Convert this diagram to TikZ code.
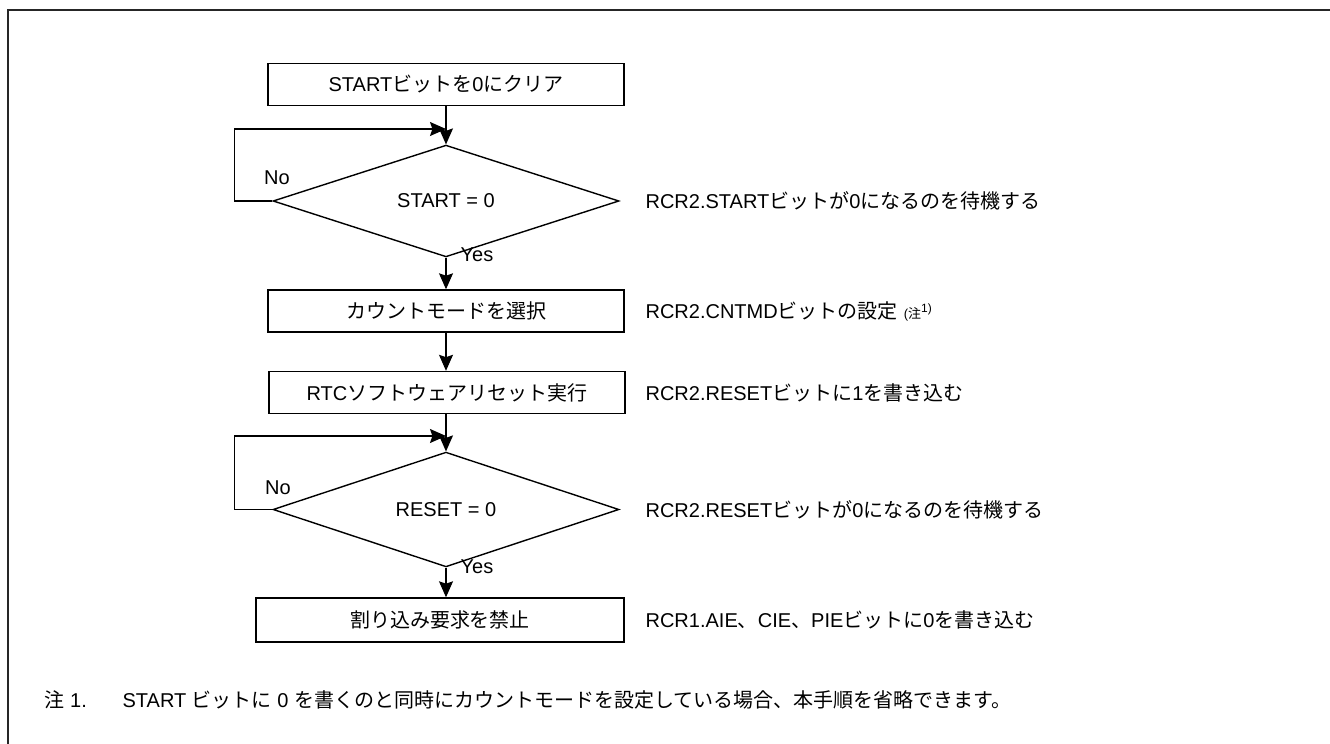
\documentclass[tikz,border=0pt]{standalone}
\usepackage{fontspec}
\setmainfont{Liberation Sans}
\newfontfamily\jpf{Noto Sans CJK JP}
\newcommand\J[1]{{\jpf #1}}
\usetikzlibrary{arrows.meta,shapes.geometric}
\begin{document}
\begin{tikzpicture}[x=0.5pt,y=-0.5pt,
  font=\fontsize{10}{12}\selectfont,
  line width=0.6pt,
  procbox/.style={draw,line width=0.7pt,rectangle,minimum width=178pt,minimum height=21pt,inner sep=0pt},
  decision/.style={draw,line width=0.7pt,diamond,minimum width=173pt,minimum height=42pt,inner sep=0pt},
  sidetext/.style={anchor=west,inner sep=0pt},
  lbl/.style={inner sep=0pt},
  arr/.style={-{Stealth[length=8pt,width=7pt,inset=1.2pt]}}]
\useasboundingbox (0,0) rectangle (1330,744);
% frame
\draw[line width=0.7pt,black!85] (1330,10) -- (8,10) -- (8,744);
% nodes
\node[procbox] (b1) at (446,84.5) {START\J{ビットを}0\J{にクリア}};
\node[decision] (d1) at (446,201) {START = 0};
\node[procbox] (b2) at (446,311) {\J{カウントモードを選択}};
\node[procbox] (b3) at (447,392.5) {RTC\J{ソフトウェアリセット実行}};
\node[decision] (d2) at (446,509.5) {RESET = 0};
\node[procbox,minimum width=184pt,minimum height=22pt] (b4) at (440,620) {\J{割り込み要求を禁止}};
\coordinate (j1) at (446,129);
\coordinate (j2) at (446,436);
% side texts
\node[sidetext] (s1) at (645,201) {RCR2.START\J{ビットが}0\J{になるのを待機する}};
\node[sidetext] (s2) at (645,311) {RCR2.CNTMD\J{ビットの設定}\hspace{3pt}{\fontsize{6.5}{7}\selectfont(\J{注}}\raisebox{2.8pt}{\fontsize{6}{6}\selectfont 1)}};
\node[sidetext] (s3) at (645,392.5) {RCR2.RESET\J{ビットに}1\J{を書き込む}};
\node[sidetext] (s4) at (645,509.5) {RCR2.RESET\J{ビットが}0\J{になるのを待機する}};
\node[sidetext] (s5) at (645,620) {RCR1.AIE\J{、}CIE\J{、}PIE\J{ビットに}0\J{を書き込む}};
% labels
\node[lbl] (no1) at (277,178) {No};
\node[lbl] (yes1) at (477,255) {Yes};
\node[lbl] (no2) at (278,488) {No};
\node[lbl] (yes2) at (477,567) {Yes};
% footnote
\node[sidetext] (fn) at (44,700) {\makebox[39pt][l]{\J{注} 1.}START \J{ビットに} 0 \J{を書くのと同時にカウントモードを設定している場合、本手順を省略できます。}};
% connectors
\draw[arr] (b1.south) -- (d1.north);
\draw[arr] (d1.west) -- ++(-38,0) |- (j1);
\draw[arr] (d1.south) -- (d1.south |- b2.north);
\draw[arr] (b2.south) -- (b2.south |- b3.north);
\draw[arr] (b2.south |- b3.south) -- (d2.north);
\draw[arr] (d2.west) -- ++(-38,0) |- (j2);
\draw[arr] (d2.south) -- (d2.south |- b4.north);
\end{tikzpicture}
\end{document}
